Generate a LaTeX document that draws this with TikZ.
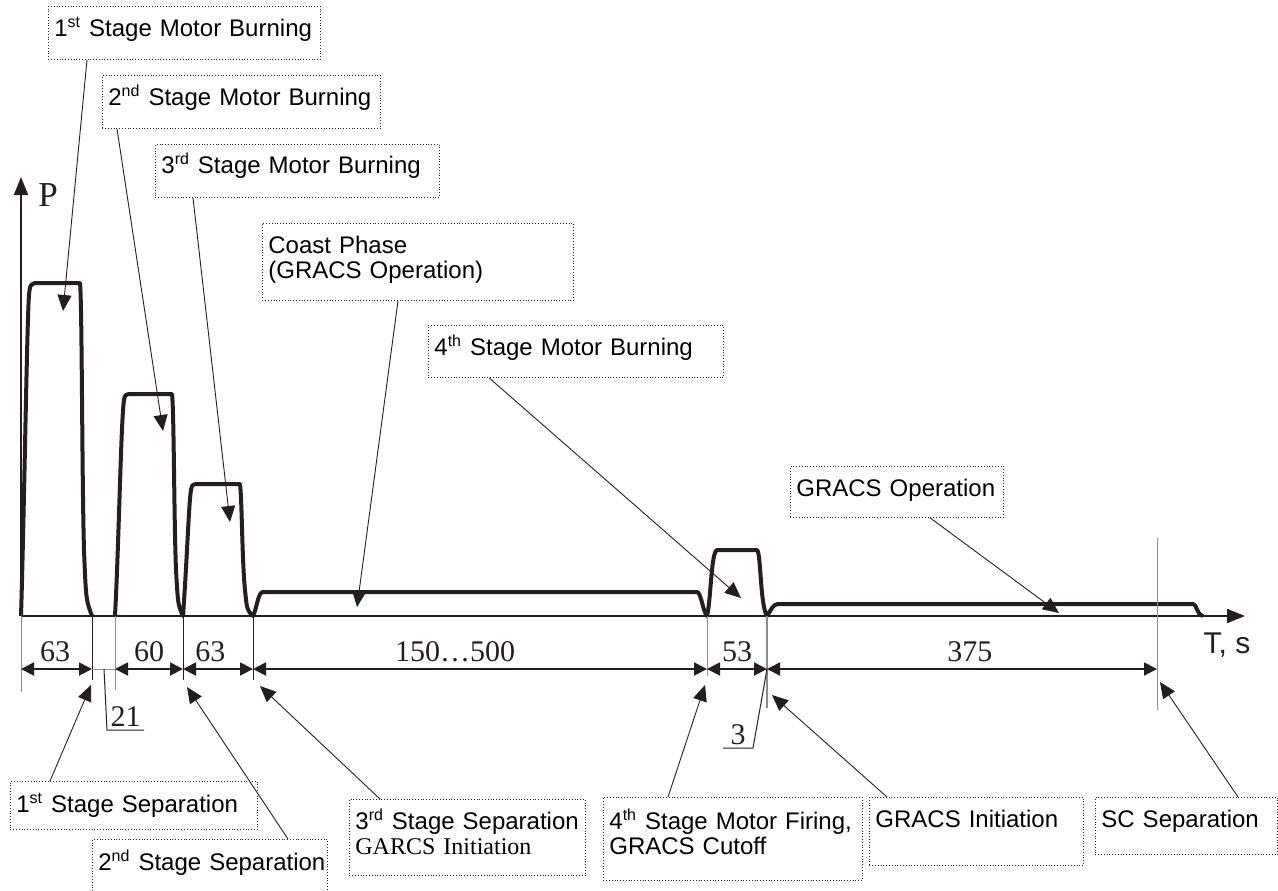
\documentclass[tikz,border=0pt]{standalone}
\usepackage{fontspec}
\setmainfont{Liberation Serif}
\setsansfont{Liberation Sans}
\usetikzlibrary{arrows.meta,calc}
\definecolor{ink}{HTML}{231F20}

\begin{document}
\begin{tikzpicture}[x=0.5pt,y=-0.5pt,
  note/.style={draw=ink,densely dotted,line width=0.4pt,anchor=north west,align=left,
    inner xsep=3pt,inner ysep=0pt,font=\sffamily\fontsize{12}{12.5}\selectfont},
  lead/.style={ink,line width=0.45pt,-{Triangle[length=8pt,width=7pt]}},
  axis/.style={ink,line width=1pt,-{Triangle[length=9pt,width=7pt]}},
  burn/.style={ink,line width=2pt,line join=round},
  dimline/.style={ink,line width=0.9pt,{Triangle[length=6.5pt,width=6.5pt]}-{Triangle[length=6.5pt,width=6.5pt]}},
  dimlbl/.style={above,inner sep=3pt,text=ink,font=\rmfamily\fontsize{15}{15}\selectfont},
  ext/.style={black!45,line width=0.5pt},
  extd/.style={ink,line width=0.5pt}]
\useasboundingbox (0,0) rectangle (1278,890);

% axes
\coordinate (o) at (21,616);
\coordinate (ptip) at (21,177);
\coordinate (ttip) at (1245,616);
\draw[axis] (o) -- (ptip);
\draw[axis] (o) -- (ttip);
\node[text=ink,font=\rmfamily\fontsize{17.5}{17.5}\selectfont] (plbl) at (48,195) {P};
\node[text=ink,font=\sffamily\fontsize{15}{15}\selectfont] (tlbl) at (1227,645) {T, s};

% thrust profile
\draw[burn] (21,616) .. controls (24,520) and (27,320) .. (29,295) .. controls (30,285) .. (35,283)
  -- (80,283) .. controls (82,300) and (82,480) .. (84,550) .. controls (86,600) .. (92,616);
\draw[burn] (115,616) .. controls (119,540) and (121,420) .. (124,400) .. controls (125,395) .. (129,394)
  -- (172,394) .. controls (174,410) and (174,520) .. (176,570) .. controls (178,605) .. (183,616)
  .. controls (187,560) and (189,500) .. (191,490) .. controls (192,485) .. (196,484)
  -- (240,484) .. controls (242,500) and (242,560) .. (245,590) .. controls (247,610) .. (253,616)
  .. controls (257,608) and (258,592) .. (263,592) -- (697,592)
  .. controls (701,592) and (703,612) .. (707,616)
  .. controls (711,600) and (711,552) .. (717,550) -- (757,550)
  .. controls (761,552) and (760,605) .. (767,616)
  .. controls (771,610) and (773,604) .. (778,604) -- (1193,604)
  .. controls (1197,604) and (1196,614) .. (1203,616);

% extension lines
\foreach \x/\a/\b/\s in {21/616/692/ext,92/616/680/extd,115/616/690/ext,183/616/680/extd,
  253/616/680/extd,707/616/676/ext,1157/538/710/ext}
  \draw[\s] (\x,\a) -- (\x,\b);
\draw[ext,line width=1pt] (767,616) -- (767,708);

% dimensions
\foreach \n/\x in {0/21,1/92,2/115,3/183,4/253,5/707,6/767,7/1157}
  \coordinate (d\n) at (\x,669);
\foreach \a/\b/\p/\t in {0/1/0.48/63,2/3/0.5/60,3/4/0.39/63,4/5/0.445/150\ldots500,5/6/0.5/53,6/7/0.52/375}
  \draw[dimline] (d\a) -- (d\b) node[dimlbl,pos=\p] (w\a) {\t};
\draw[ext] (d1) -- (d2);
\coordinate (g21) at (104,669);
\coordinate (k21) at (107,730);
\coordinate (k21e) at (144,730);
\draw[extd] (g21) -- (k21) -- (k21e) node[dimlbl,midway,inner sep=1.5pt] (w21) {21};
\coordinate (k3) at (753,748);
\coordinate (k3e) at (723,748);
\draw[extd] (d6) -- (k3) -- (k3e) node[dimlbl,midway,inner sep=1.5pt] (w3) {3};

% phase boxes
\node[note,text width=130pt,text height=15pt,text depth=11.5pt] (b1) at (48,6) {1\textsuperscript{st} Stage Motor Burning};
\node[note,text width=133pt,text height=15pt,text depth=11.5pt] (b2) at (102,75) {2\textsuperscript{nd} Stage Motor Burning};
\node[note,text width=136pt,text height=14.5pt,text depth=12pt] (b3) at (155,144) {3\textsuperscript{rd} Stage Motor Burning};
\node[note,text width=149.5pt,text height=15pt,text depth=23.5pt] (b4) at (262,223) {Coast Phase\\(GRACS Operation)};
\node[note,text width=141.5pt,text height=15pt,text depth=11pt] (b5) at (428,325) {4\textsuperscript{th} Stage Motor Burning};
\node[note,text width=100.5pt,text height=15pt,text depth=10.5pt] (b6) at (790,466) {GRACS Operation};

% event boxes
\node[note,text width=117.5pt,text height=15.5pt,text depth=8.5pt] (b7) at (10,781) {1\textsuperscript{st} Stage Separation};
\node[note,text width=111.5pt,text height=15.5pt,text depth=12.5pt] (b8) at (92,839) {\mbox{2\textsuperscript{nd} Stage Separation}};
\node[note,text width=112pt,text height=15pt,text depth=23pt] (b9) at (349,799) {3\textsuperscript{rd} Stage Separation\\{\rmfamily GARCS Initiation}};
\node[note,text width=123.5pt,text height=16pt,text depth=25.5pt] (b10) at (603,797) {4\textsuperscript{th} Stage Motor Firing,\\GRACS Cutoff};
\node[note,text width=101pt,text height=15pt,text depth=19pt] (b11) at (869,797) {GRACS Initiation};
\node[note,text width=85pt,text height=15pt,text depth=13.5pt] (b12) at (1095,797) {SC Separation};

% leaders
\coordinate (m1) at (63,311);
\coordinate (m2) at (163,431);
\coordinate (m3) at (230,522);
\coordinate (m4) at (357,607);
\coordinate (m5) at (741,598);
\coordinate (m6) at (1059,613);
\coordinate (s1) at (91,685);
\coordinate (s2) at (187,687);
\coordinate (s3) at (260,686);
\coordinate (s4) at (705,685);
\coordinate (s5) at (772,695);
\coordinate (s6) at (1160,682);
\draw[lead] ($(b1.south west)+(39,0)$) -- (m1);
\draw[lead] ($(b2.south west)+(15,0)$) -- (m2);
\draw[lead] ($(b3.south west)+(38,0)$) -- (m3);
\draw[lead] ($(b4.south west)+(136,0)$) -- (m4);
\draw[lead] ($(b5.south west)+(61,0)$) -- (m5);
\draw[lead] ($(b6.south west)+(140,0)$) -- (m6);
\draw[lead] ($(b7.north west)+(40,0)$) -- (s1);
\draw[lead] ($(b8.north west)+(196,0)$) -- (s2);
\draw[lead] ($(b9.north west)+(31,0)$) -- (s3);
\draw[lead] ($(b10.north west)+(65,0)$) -- (s4);
\draw[lead] ($(b11.north west)+(18,0)$) -- (s5);
\draw[lead] ($(b12.north west)+(143,0)$) -- (s6);
\end{tikzpicture}
\end{document}
